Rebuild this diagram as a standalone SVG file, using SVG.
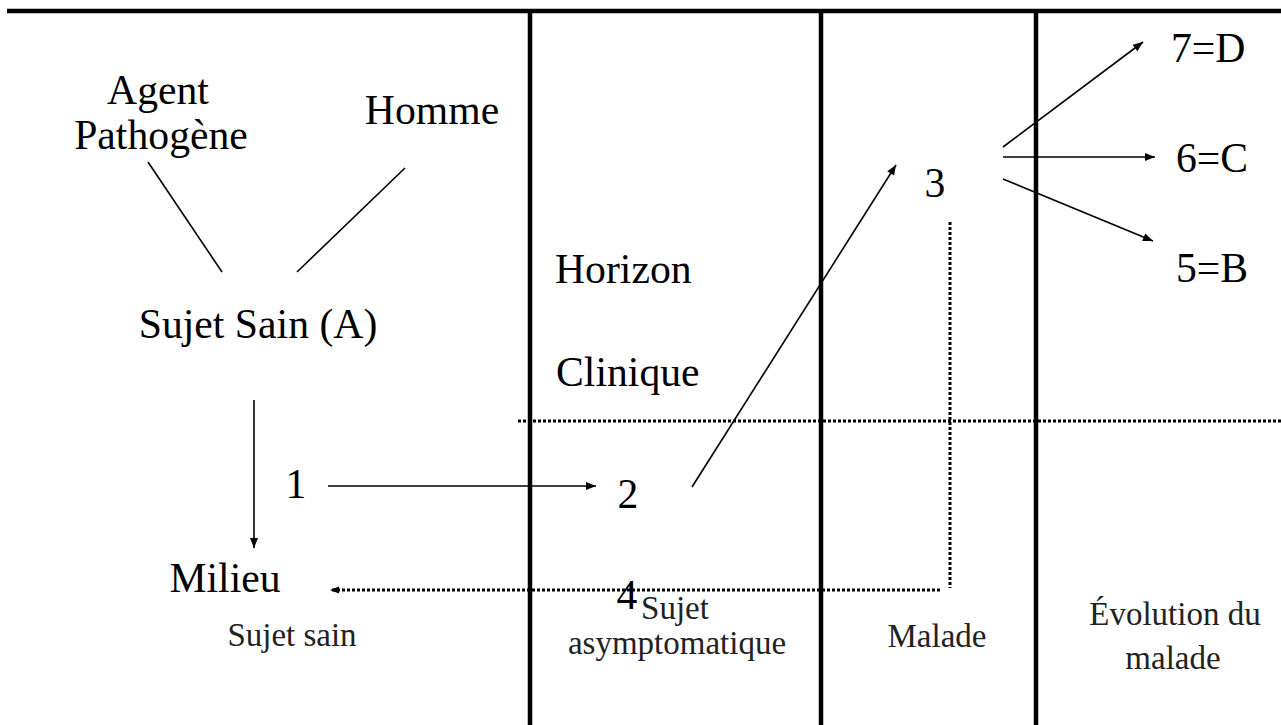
<svg xmlns="http://www.w3.org/2000/svg" width="1281" height="725" viewBox="0 0 1281 725">
<style>
.t{font-family:"Liberation Serif","Times New Roman",serif;font-size:43px;fill:#000}
.s{font-family:"Liberation Serif","Times New Roman",serif;font-size:33px;fill:#222}
.frame{stroke:#000;stroke-width:4.5;fill:none}
.ln{stroke:#000;stroke-width:1.6;fill:none}
.dot{stroke:#000;stroke-width:3;stroke-dasharray:3 2;fill:none}
</style>
<defs>
<marker id="ah" viewBox="0 0 10 10" refX="10" refY="5" markerWidth="11" markerHeight="10" markerUnits="userSpaceOnUse" orient="auto">
<path d="M0,1 L10,5 L0,9 Z" fill="#000"/>
</marker>
<marker id="ahd" viewBox="0 0 10 10" refX="10" refY="5" markerWidth="9" markerHeight="9" markerUnits="userSpaceOnUse" orient="auto">
<path d="M0,1 L10,5 L0,9 Z" fill="#000"/>
</marker>
</defs>
<rect width="1281" height="725" fill="#fff"/>
<g id="frame">
<line class="frame" x1="7" y1="11" x2="1281" y2="11"/>
<line class="frame" x1="530" y1="11" x2="530" y2="725"/>
<line class="frame" x1="821" y1="11" x2="821" y2="725"/>
<line class="frame" x1="1036" y1="11" x2="1036" y2="725"/>
</g>
<g id="connectors">
<line class="ln" x1="148" y1="162" x2="222" y2="272"/>
<line class="ln" x1="405" y1="168" x2="297" y2="272"/>
<line class="ln" x1="254" y1="400" x2="254" y2="548" marker-end="url(#ah)"/>
<line class="ln" x1="328" y1="486" x2="596" y2="486" marker-end="url(#ah)"/>
<line class="ln" x1="692" y1="487" x2="896" y2="165" marker-end="url(#ah)"/>
<line class="ln" x1="1003" y1="147" x2="1143" y2="42" marker-end="url(#ah)"/>
<line class="ln" x1="1003" y1="157" x2="1155" y2="157" marker-end="url(#ah)"/>
<line class="ln" x1="1003" y1="179" x2="1153" y2="241" marker-end="url(#ah)"/>
<line class="dot" x1="518" y1="421" x2="1281" y2="421"/>
<line class="dot" x1="950" y1="222" x2="950" y2="588"/>
<line class="dot" x1="940" y1="590" x2="330" y2="590" marker-end="url(#ahd)"/>
</g>
<g id="agent"><text class="t" text-anchor="middle" transform="translate(158,104) scale(0.97,1)">Agent</text>
<text class="t" text-anchor="middle" transform="translate(161,149) scale(0.97,1)">Pathogène</text></g>
<g id="homme"><text class="t" text-anchor="middle" transform="translate(432,124) scale(0.97,1)">Homme</text></g>
<g id="sujet-sain-a"><text class="t" text-anchor="middle" transform="translate(258,338) scale(0.97,1)">Sujet Sain (A)</text></g>
<g id="milieu"><text class="t" text-anchor="middle" transform="translate(225,592) scale(0.97,1)">Milieu</text></g>
<g id="n1"><text class="t" text-anchor="middle" transform="translate(296,498) scale(0.97,1)">1</text></g>
<g id="n2"><text class="t" text-anchor="middle" transform="translate(628,508) scale(0.97,1)">2</text></g>
<g id="n3"><text class="t" text-anchor="middle" transform="translate(935,197) scale(0.97,1)">3</text></g>
<g id="n4"><text class="t" text-anchor="middle" transform="translate(627,609) scale(0.97,1)">4</text></g>
<g id="horizon"><text class="t" transform="translate(555,283) scale(0.97,1)">Horizon</text>
<text class="t" transform="translate(556,386) scale(0.97,1)">Clinique</text></g>
<g id="d7"><text class="t" transform="translate(1171,62) scale(0.97,1)">7=D</text></g>
<g id="c6"><text class="t" transform="translate(1176,172) scale(0.97,1)">6=C</text></g>
<g id="b5"><text class="t" transform="translate(1176,282) scale(0.97,1)">5=B</text></g>
<g id="labels">
<text class="s" text-anchor="middle" transform="translate(292,646) scale(1,1)">Sujet sain</text>
<text class="s" text-anchor="middle" transform="translate(675,619) scale(1,1)">Sujet</text>
<text class="s" text-anchor="middle" transform="translate(677,654) scale(1,1)">asymptomatique</text>
<text class="s" text-anchor="middle" transform="translate(937,647) scale(1,1)">Malade</text>
<text class="s" text-anchor="middle" transform="translate(1175,625) scale(1,1)">Évolution du</text>
<text class="s" text-anchor="middle" transform="translate(1173,669) scale(1,1)">malade</text>
</g>
</svg>
